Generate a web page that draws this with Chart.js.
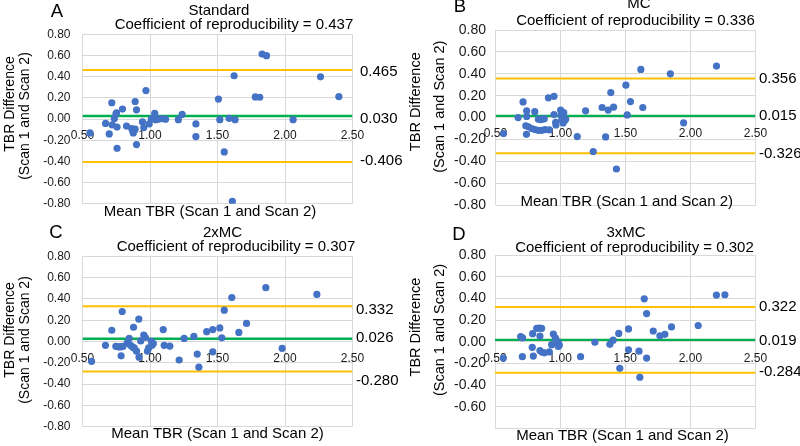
<!DOCTYPE html>
<html><head><meta charset="utf-8">
<script src="https://cdn.jsdelivr.net/npm/chart.js@4.4.1/dist/chart.umd.min.js"></script>
<style>
html,body{margin:0;padding:0;background:#fff;width:800px;height:446px;overflow:hidden}
canvas{position:absolute;display:block}
</style></head><body>
<canvas id="cA" width="410" height="223" style="left:0;top:0"></canvas>
<canvas id="cB" width="400" height="223" style="left:400px;top:0"></canvas>
<canvas id="cC" width="410" height="223" style="left:0;top:223px"></canvas>
<canvas id="cD" width="400" height="223" style="left:400px;top:223px"></canvas>
<script>
// ---------- data ----------
const panelLetters = ['A', 'B', 'C', 'D'];
const panelTitles = ['Standard', 'MC', '2xMC', '3xMC'];
const coefficients = ['0.437', '0.336', '0.307', '0.302'];
const upperLimits = [0.465, 0.356, 0.332, 0.322];
const meanDiffs = [0.030, 0.015, 0.026, 0.019];
const lowerLimits = [-0.406, -0.326, -0.280, -0.284];
const xAxisTitle = 'Mean TBR (Scan 1 and Scan 2)';
const yAxisTitle = ['TBR Difference', '(Scan 1 and Scan 2)'];
const xRange = [0.5, 2.5];
const yRange = [-0.8, 0.8];

// [mean TBR, TBR difference]
const pointsA = [[0.555,-0.13],[0.671,-0.04],[0.698,-0.14],[0.717,0.155],[0.72,-0.055],[0.736,0.005],[0.748,0.05],[0.752,0.06],[0.756,-0.075],[0.756,-0.275],[0.796,0.095],[0.826,-0.065],[0.865,-0.09],[0.872,-0.11],[0.876,-0.13],[0.882,-0.11],[0.89,-0.095],[0.89,0.167],[0.9,0.088],[0.9,-0.24],[0.944,-0.025],[0.954,-0.08],[0.97,0.27],[0.994,-0.045],[1.01,0.002],[1.035,0.055],[1.042,-0.005],[1.06,0.0],[1.085,0.005],[1.115,0.0],[1.21,-0.005],[1.238,0.045],[1.34,-0.045],[1.34,-0.165],[1.507,0.19],[1.517,-0.005],[1.55,-0.31],[1.586,0.008],[1.61,-0.777],[1.623,0.41],[1.63,-0.005],[1.78,0.21],[1.813,0.207],[1.83,0.615],[1.863,0.60],[2.06,-0.005],[2.263,0.40],[2.399,0.213]];
const pointsB = [[0.561,-0.146],[0.674,0.0],[0.712,0.143],[0.733,-0.075],[0.738,-0.153],[0.74,0.061],[0.74,0.01],[0.753,-0.085],[0.779,-0.1],[0.802,0.054],[0.804,-0.11],[0.83,-0.117],[0.83,-0.015],[0.845,-0.02],[0.855,-0.117],[0.86,-0.015],[0.875,-0.01],[0.881,-0.11],[0.907,0.18],[0.914,-0.112],[0.95,0.194],[0.95,0.027],[0.963,-0.044],[0.965,-0.068],[1.001,0.068],[1.005,0.02],[1.01,-0.02],[1.02,-0.05],[1.025,0.045],[1.03,-0.03],[1.04,-0.015],[1.129,-0.174],[1.193,0.061],[1.252,-0.31],[1.32,0.092],[1.347,-0.177],[1.367,0.068],[1.387,0.228],[1.408,0.095],[1.43,-0.47],[1.503,0.296],[1.513,0.024],[1.538,0.146],[1.618,0.44],[1.633,0.092],[1.845,0.40],[1.947,-0.048],[2.2,0.47]];
const pointsC = [[0.567,-0.186],[0.67,-0.035],[0.717,0.106],[0.747,-0.045],[0.76,-0.048],[0.775,-0.05],[0.786,-0.134],[0.79,-0.048],[0.794,0.282],[0.80,-0.045],[0.831,-0.013],[0.846,0.029],[0.856,-0.035],[0.87,-0.05],[0.878,0.134],[0.883,-0.06],[0.9,-0.09],[0.917,0.211],[0.919,-0.147],[0.931,0.006],[0.954,0.061],[0.966,0.038],[0.981,-0.09],[0.99,-0.06],[1.01,0.003],[1.015,-0.035],[1.025,-0.019],[1.098,0.112],[1.105,-0.035],[1.147,-0.042],[1.216,-0.173],[1.253,0.029],[1.325,0.048],[1.35,-0.118],[1.362,-0.24],[1.42,0.093],[1.465,0.112],[1.465,-0.096],[1.517,0.128],[1.532,0.035],[1.55,0.294],[1.606,0.413],[1.658,0.086],[1.715,0.17],[1.858,0.506],[1.979,-0.064],[2.236,0.442]];
const pointsD = [[0.564,-0.149],[0.697,0.05],[0.712,0.038],[0.71,-0.136],[0.786,-0.05],[0.789,0.076],[0.794,-0.13],[0.82,0.126],[0.84,0.128],[0.845,0.054],[0.845,-0.08],[0.858,0.126],[0.862,-0.095],[0.88,-0.1],[0.917,-0.092],[0.935,-0.025],[0.948,0.073],[0.963,0.038],[0.973,0.013],[0.986,-0.009],[0.994,-0.028],[0.986,-0.041],[1.157,-0.136],[1.267,-0.003],[1.382,-0.022],[1.407,0.016],[1.45,0.079],[1.458,-0.243],[1.525,0.12],[1.525,-0.073],[1.605,-0.085],[1.612,-0.326],[1.646,0.398],[1.664,0.262],[1.664,-0.149],[1.715,0.101],[1.766,0.057],[1.804,0.07],[1.855,0.139],[2.06,0.152],[2.2,0.433],[2.265,0.436]];
const panelPoints = [pointsA, pointsB, pointsC, pointsD];

// ---------- layout / style ----------
const FONT = '"Liberation Sans", Arial, Helvetica, sans-serif';
const layouts = [
  {id:'cA', area:{l:82.5,r:352.5,t:34.5,b:195}, yPad:12, yFont:12, xPad:9, letter:[57,11.7], title:[219,11.3], sub:[234,24.7], xt:[210,211.7], yt:[[10,104],[25,116]], ytFont:14, rx:360, roff:[2,3,-1.5], hideMin:false},
  {id:'cB', area:{l:95.5,r:355.5,t:30,b:186.7}, yPad:9.5, yFont:14, xPad:9, letter:[60,6.7], title:[239,3.5], sub:[235.5,20.8], xt:[226.7,202], yt:[[15.5,101.7],[40,106.7]], ytFont:14.5, rx:359, roff:[0,0,1], hideMin:false},
  {id:'cC', area:{l:82.5,r:352.5,t:33.3,b:200}, yPad:12, yFont:12, xPad:10, letter:[56,10.3], title:[222.5,10], sub:[236,23.8], xt:[217.5,210.5], yt:[[10,107],[25,117]], ytFont:14, rx:356, roff:[4,-1,9], hideMin:false},
  {id:'cD', area:{l:95,r:355.5,t:32.3,b:201}, yPad:9, yFont:14, xPad:9.5, letter:[59,11.7], title:[226,10], sub:[234.5,24.7], xt:[222.5,212.5], yt:[[15.5,104],[40,107]], ytFont:14.5, rx:359, roff:[0,1,-1], hideMin:true}
];

const textPlugin = {
  id: 'panelText',
  afterDraw(chart, args, opts) {
    const c = chart.ctx, L = opts.layout, i = opts.index;
    const ys = chart.scales.y;
    c.save();
    c.fillStyle = '#000';
    c.textBaseline = 'middle';
    c.textAlign = 'center';
    c.font = '18.5px ' + FONT;
    c.fillText(panelLetters[i], L.letter[0], L.letter[1]);
    c.font = '15px ' + FONT;
    c.fillText(panelTitles[i], L.title[0], L.title[1]);
    c.fillText('Coefficient of reproducibility = ' + coefficients[i], L.sub[0], L.sub[1]);
    c.fillText(xAxisTitle, L.xt[0], L.xt[1]);
    c.font = L.ytFont + 'px ' + FONT;
    for (let k = 0; k < 2; k++) {
      c.save();
      c.translate(L.yt[k][0], L.yt[k][1]);
      c.rotate(-Math.PI / 2);
      c.fillText(yAxisTitle[k], 0, 0);
      c.restore();
    }
    c.font = '15px ' + FONT;
    c.textAlign = 'left';
    const vals = [upperLimits[i], meanDiffs[i], lowerLimits[i]];
    vals.forEach((v, k) => c.fillText(v.toFixed(3), L.rx, ys.getPixelForValue(v) + L.roff[k]));
    c.restore();
  }
};

const fmt = v => (Math.abs(v) < 1e-9 ? 0 : v).toFixed(2);

layouts.forEach((L, i) => {
  const canvas = document.getElementById(L.id);
  const W = canvas.width, H = canvas.height;
  const hline = (v, color, w) => ({
    type: 'line', data: [{x: xRange[0], y: v}, {x: xRange[1], y: v}],
    borderColor: color, borderWidth: w, pointRadius: 0, showLine: true, order: 2
  });
  new Chart(canvas, {
    type: 'scatter',
    data: {
      datasets: [
        {data: panelPoints[i].map(p => ({x: p[0], y: p[1]})), backgroundColor: '#4472C4', borderWidth: 0, pointRadius: 3.6, order: 0},
        hline(upperLimits[i], '#FFC000', 2),
        hline(lowerLimits[i], '#FFC000', 2),
        hline(meanDiffs[i], '#00B050', 2.4)
      ]
    },
    options: {
      responsive: false, animation: false, events: [],
      layout: {padding: {left: 0, top: L.area.t, right: W - L.area.r, bottom: 0}},
      plugins: {legend: {display: false}, tooltip: {enabled: false}, panelText: {layout: L, index: i}},
      scales: {
        x: {
          type: 'linear', min: xRange[0], max: xRange[1], position: {y: 0},
          grid: {color: '#D9D9D9', lineWidth: 1, drawTicks: false},
          border: {display: false},
          ticks: {stepSize: 0.5, padding: L.xPad, maxRotation: 0, autoSkip: false, color: '#1a1a1a', font: {family: FONT, size: 12}, callback: v => fmt(v)},
          afterFit: s => { s.height = H - L.area.b; }
        },
        y: {
          type: 'linear', min: yRange[0], max: yRange[1], position: 'left',
          grid: {color: '#D9D9D9', lineWidth: 1, drawTicks: false},
          border: {display: false},
          ticks: {stepSize: 0.2, padding: L.yPad, autoSkip: false, color: '#1a1a1a', font: {family: FONT, size: L.yFont},
            callback: v => (L.hideMin && v <= yRange[0] + 1e-9) ? '' : fmt(v)},
          afterFit: s => { s.width = L.area.l; }
        }
      }
    },
    plugins: [textPlugin]
  });
});
</script>
</body></html>
